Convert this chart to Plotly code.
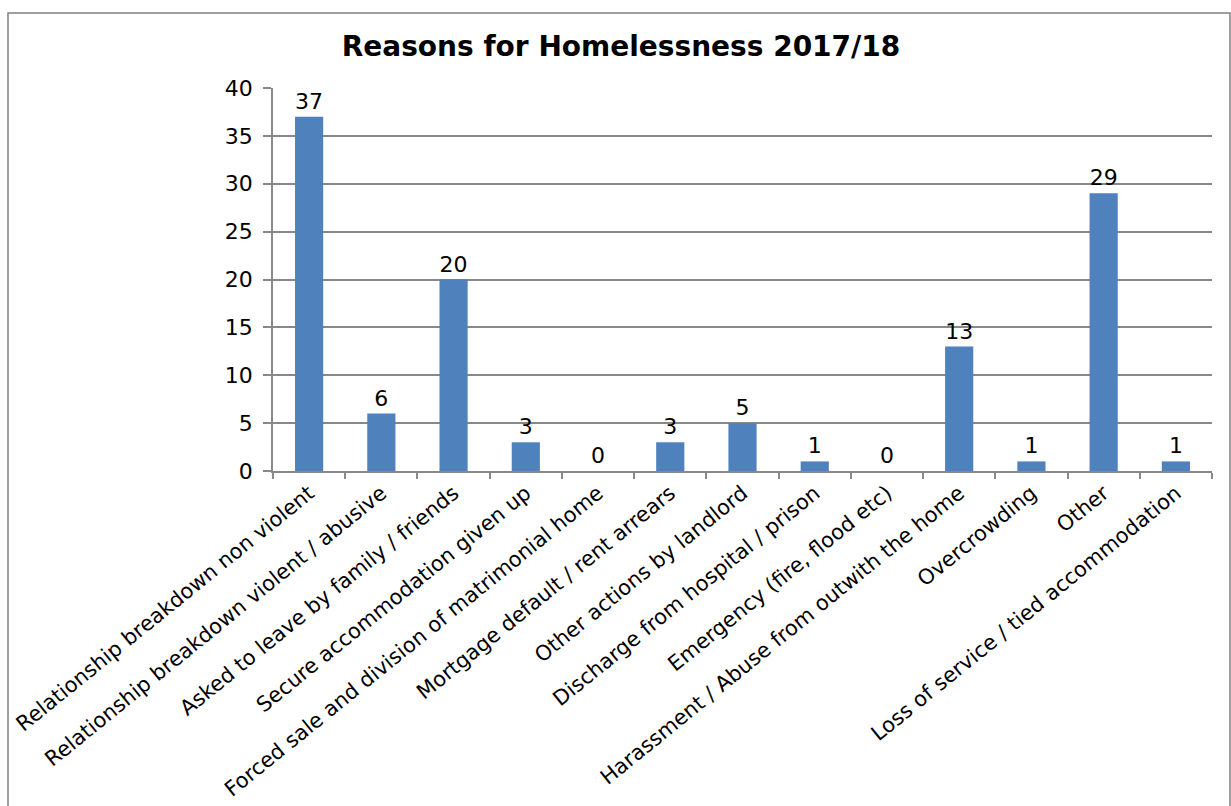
import plotly.graph_objects as go

categories = [
    "Relationship breakdown non violent",
    "Relationship breakdown violent / abusive",
    "Asked to leave by family / friends",
    "Secure accommodation given up",
    "Forced sale and division of matrimonial home",
    "Mortgage default / rent arrears",
    "Other actions by landlord",
    "Discharge from hospital / prison",
    "Emergency (fire, flood etc)",
    "Harassment / Abuse from outwith the home",
    "Overcrowding",
    "Other",
    "Loss of service / tied accommodation",
]
values = [37, 6, 20, 3, 0, 3, 5, 1, 0, 13, 1, 29, 1]
y_ticks = [0, 5, 10, 15, 20, 25, 30, 35, 40]

W, H = 1231, 806
L, R, T, B = 273, 19, 88, 335
pw = W - L - R
ph = H - T - B

TXT = "DejaVu Sans, Liberation Sans, Arial"

fig = go.Figure(go.Bar(
    x=categories, y=values,
    text=[str(v) for v in values],
    textposition="outside",
    textfont=dict(family=TXT, size=22, color="#000000"),
    marker=dict(color="#4F81BD", line=dict(width=0)),
    cliponaxis=False,
))

fig.update_layout(
    width=W, height=H,
    margin=dict(l=L, r=R, t=T, b=B, autoexpand=False),
    paper_bgcolor="white", plot_bgcolor="white",
    bargap=0.61,
    showlegend=False,
    title=dict(text="<b>Reasons for Homelessness 2017/18</b>",
               x=621 / W, xanchor="center", y=1 - 46 / H, yanchor="middle",
               font=dict(family="DejaVu Sans, Open Sans", size=28, color="#000000")),
    font=dict(family=TXT, color="#000000"),
    shapes=[dict(type="rect", xref="paper", yref="paper",
                 x0=(8 - L) / pw, x1=(1230 - L) / pw,
                 y0=-(H + 5 - T - ph) / ph, y1=(T + ph - 13) / ph,
                 line=dict(color="#808080", width=1.5), fillcolor="rgba(0,0,0,0)",
                 layer="below")],
)

fig.update_xaxes(
    automargin=False,
    showline=True, linecolor="#888888", linewidth=1.5,
    ticks="outside", tickson="boundaries", ticklen=6, tickcolor="#888888", tickwidth=1.5,
    tickangle=-39,
    tickfont=dict(family=TXT, size=21, color="#000000"),
    showgrid=False,
)
fig.update_yaxes(
    automargin=False,
    range=[0, 40], tickvals=y_ticks,
    showline=True, linecolor="#888888", linewidth=1.5,
    ticks="outside", ticklen=8, tickcolor="#888888", tickwidth=1.5,
    ticklabelstandoff=6,
    showgrid=True, gridcolor="#888888", gridwidth=1.5,
    zeroline=False,
    tickfont=dict(family=TXT, size=22, color="#000000"),
)

fig.write_html("out.html")
